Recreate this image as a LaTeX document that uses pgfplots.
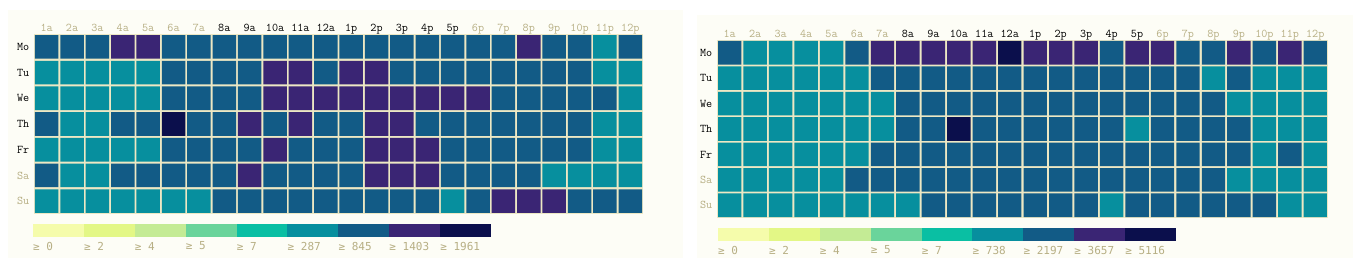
\documentclass[border=0pt]{standalone}
\usepackage{pgfplots}
\pgfplotsset{compat=1.18}
\usepackage{fontspec}
\newfontfamily\legfont{DejaVu Sans Mono}
\definecolor{c0}{HTML}{F5FCAB}
\definecolor{c1}{HTML}{E3F786}
\definecolor{c2}{HTML}{C4EB95}
\definecolor{c3}{HTML}{6AD49B}
\definecolor{c4}{HTML}{0ABFA3}
\definecolor{c5}{HTML}{078F9E}
\definecolor{c6}{HTML}{125B86}
\definecolor{c7}{HTML}{3A2574}
\definecolor{c8}{HTML}{0B0F4C}
\definecolor{kh}{HTML}{B7AF84}
\definecolor{cream}{HTML}{EDE8C4}
\definecolor{bgc}{HTML}{FDFDF6}

\pgfdeclareplotmark{cell}{%
  \pgfsetcornersarced{\pgfpoint{2.5pt}{2.5pt}}%
  \pgfpathmoveto{\pgfpoint{-11.7pt}{0pt}}%
  \pgfpathlineto{\pgfpoint{-11.7pt}{11.8pt}}%
  \pgfpathlineto{\pgfpoint{11.7pt}{11.8pt}}%
  \pgfpathlineto{\pgfpoint{11.7pt}{-11.8pt}}%
  \pgfpathlineto{\pgfpoint{-11.7pt}{-11.8pt}}%
  \pgfpathclose
  \pgfusepathqfill}

\pgfplotsset{
  heat/.style={
    scale only axis, clip=false,
    xmin=-0.5, xmax=23.5, ymin=-0.5, ymax=6.5,
    axis line style={draw=none}, major tick length=0pt,
    xtick={0,...,23}, ytick={0,...,6},
    xticklabel pos=upper,
    xticklabels={\color{kh}1a,\color{kh}2a,\color{kh}3a,\color{kh}4a,\color{kh}5a,\color{kh}6a,\color{kh}7a,8a,9a,10a,11a,12a,1p,2p,3p,4p,5p,\color{kh}6p,\color{kh}7p,\color{kh}8p,\color{kh}9p,\color{kh}10p,\color{kh}11p,\color{kh}12p},
    yticklabels={\color{kh}Su,\color{kh}Sa,Fr,Th,We,Tu,Mo},
    tick label style={font=\ttfamily\fontsize{11.8}{13}\selectfont, inner sep=0pt},
    xticklabel style={anchor=base, yshift=2.5pt},
    yticklabel style={anchor=east, xshift=-4.5pt},
    axis background/.style={fill=cream},
  },
  cellplot/.style={only marks, mark=cell, mark options={fill=#1, draw=none}},
  legbar/.style={
    scale only axis, width=458pt, height=13pt, anchor=south west,
    xmin=0, xmax=9, ymin=0, ymax=1,
    axis line style={draw=none}, major tick length=0pt,
    ytick=\empty, xtick={0,...,8},
    xticklabel style={anchor=west, inner sep=0pt, yshift=-9pt,
      font=\legfont\fontsize{11}{13}\selectfont, text=kh},
  },
}

\begin{document}
\begin{tikzpicture}
\path[use as bounding box] (0pt,0pt) rectangle (1359pt,258pt);
\fill[bgc] (8pt,0pt) rectangle (683pt,248pt);
\fill[bgc] (697pt,0pt) rectangle (1353pt,243pt);

% ---------------- left heat map (x: 0=1a ... 23=12p; y: 6=Mo ... 0=Su) ----------------
\begin{axis}[heat, width=609pt, height=180pt, at={(34pt,44pt)}, anchor=south west]
% level 5: >= 287
\addplot[cellplot=c5] coordinates {
(22,6)
(0,5)(1,5)(2,5)(3,5)(4,5)(22,5)(23,5)
(0,4)(1,4)(2,4)(3,4)(4,4)(23,4)
(1,3)(2,3)(22,3)(23,3)
(0,2)(1,2)(2,2)(3,2)(4,2)(22,2)(23,2)
(1,1)(2,1)(20,1)(21,1)(22,1)(23,1)
(0,0)(1,0)(2,0)(3,0)(4,0)(5,0)(6,0)(16,0)
};
% level 6: >= 845
\addplot[cellplot=c6] coordinates {
(0,6)(1,6)(2,6)(5,6)(6,6)(7,6)(8,6)(9,6)(10,6)(11,6)(12,6)(13,6)(14,6)(15,6)(16,6)(17,6)(18,6)(20,6)(21,6)(23,6)
(5,5)(6,5)(7,5)(8,5)(11,5)(14,5)(15,5)(16,5)(17,5)(18,5)(19,5)(20,5)(21,5)
(5,4)(6,4)(7,4)(8,4)(18,4)(19,4)(20,4)(21,4)(22,4)
(0,3)(3,3)(4,3)(6,3)(7,3)(9,3)(11,3)(12,3)(15,3)(16,3)(17,3)(18,3)(19,3)(20,3)(21,3)
(5,2)(6,2)(7,2)(8,2)(10,2)(11,2)(12,2)(16,2)(17,2)(18,2)(19,2)(20,2)(21,2)
(0,1)(3,1)(4,1)(5,1)(6,1)(7,1)(9,1)(10,1)(11,1)(12,1)(16,1)(17,1)(18,1)(19,1)
(7,0)(8,0)(9,0)(10,0)(11,0)(12,0)(13,0)(14,0)(15,0)(17,0)(21,0)(22,0)(23,0)
};
% level 7: >= 1403
\addplot[cellplot=c7] coordinates {
(3,6)(4,6)(19,6)
(9,5)(10,5)(12,5)(13,5)
(9,4)(10,4)(11,4)(12,4)(13,4)(14,4)(15,4)(16,4)(17,4)
(8,3)(10,3)(13,3)(14,3)
(9,2)(13,2)(14,2)(15,2)
(8,1)(13,1)(14,1)(15,1)
(18,0)(19,0)(20,0)
};
% level 8: >= 1961
\addplot[cellplot=c8] coordinates {(5,3)};
\end{axis}

% ---------------- right heat map ----------------
\begin{axis}[heat, width=611pt, height=178pt, at={(717pt,40pt)}, anchor=south west]
% level 5: >= 738
\addplot[cellplot=c5] coordinates {
(1,6)(2,6)(3,6)(4,6)
(0,5)(1,5)(2,5)(3,5)(4,5)(5,5)(19,5)(21,5)(22,5)(23,5)
(0,4)(1,4)(2,4)(3,4)(4,4)(5,4)(6,4)(20,4)(21,4)(22,4)(23,4)
(0,3)(1,3)(2,3)(3,3)(4,3)(5,3)(6,3)(16,3)(21,3)(22,3)(23,3)
(0,2)(1,2)(2,2)(3,2)(4,2)(5,2)(21,2)(23,2)
(0,1)(1,1)(2,1)(3,1)(4,1)(20,1)(21,1)(22,1)(23,1)
(0,0)(1,0)(2,0)(3,0)(4,0)(5,0)(6,0)(7,0)(15,0)(22,0)(23,0)
};
% level 6: >= 2197
\addplot[cellplot=c6] coordinates {
(0,6)(5,6)(15,6)(18,6)(19,6)(21,6)(23,6)
(6,5)(7,5)(8,5)(9,5)(10,5)(11,5)(12,5)(13,5)(14,5)(15,5)(16,5)(17,5)(18,5)(20,5)
(7,4)(8,4)(9,4)(10,4)(11,4)(12,4)(13,4)(14,4)(15,4)(16,4)(17,4)(18,4)(19,4)
(7,3)(8,3)(10,3)(11,3)(12,3)(13,3)(14,3)(15,3)(17,3)(18,3)(19,3)(20,3)
(6,2)(7,2)(8,2)(9,2)(10,2)(11,2)(12,2)(13,2)(14,2)(15,2)(16,2)(17,2)(18,2)(19,2)(20,2)(22,2)
(5,1)(6,1)(7,1)(8,1)(9,1)(10,1)(11,1)(12,1)(13,1)(14,1)(15,1)(16,1)(17,1)(18,1)(19,1)
(8,0)(9,0)(10,0)(11,0)(12,0)(13,0)(14,0)(16,0)(17,0)(18,0)(19,0)(20,0)(21,0)
};
% level 7: >= 3657
\addplot[cellplot=c7] coordinates {
(6,6)(7,6)(8,6)(9,6)(10,6)(12,6)(13,6)(14,6)(16,6)(17,6)(20,6)(22,6)
};
% level 8: >= 5116
\addplot[cellplot=c8] coordinates {(11,6)(9,3)};
\end{axis}

% ---------------- left legend ----------------
\begin{axis}[legbar, at={(33pt,21pt)},
  xticklabels={≥ 0,≥ 2,≥ 4,≥ 5,≥ 7,≥ 287,≥ 845,≥ 1403,≥ 1961}]
\addplot[fill=c0, draw=none] coordinates {(0,1)(1,1)} \closedcycle;
\addplot[fill=c1, draw=none] coordinates {(1,1)(2,1)} \closedcycle;
\addplot[fill=c2, draw=none] coordinates {(2,1)(3,1)} \closedcycle;
\addplot[fill=c3, draw=none] coordinates {(3,1)(4,1)} \closedcycle;
\addplot[fill=c4, draw=none] coordinates {(4,1)(5,1)} \closedcycle;
\addplot[fill=c5, draw=none] coordinates {(5,1)(6,1)} \closedcycle;
\addplot[fill=c6, draw=none] coordinates {(6,1)(7,1)} \closedcycle;
\addplot[fill=c7, draw=none] coordinates {(7,1)(8,1)} \closedcycle;
\addplot[fill=c8, draw=none] coordinates {(8,1)(9,1)} \closedcycle;
\end{axis}

% ---------------- right legend ----------------
\begin{axis}[legbar, at={(718pt,17pt)},
  xticklabels={≥ 0,≥ 2,≥ 4,≥ 5,≥ 7,≥ 738,≥ 2197,≥ 3657,≥ 5116}]
\addplot[fill=c0, draw=none] coordinates {(0,1)(1,1)} \closedcycle;
\addplot[fill=c1, draw=none] coordinates {(1,1)(2,1)} \closedcycle;
\addplot[fill=c2, draw=none] coordinates {(2,1)(3,1)} \closedcycle;
\addplot[fill=c3, draw=none] coordinates {(3,1)(4,1)} \closedcycle;
\addplot[fill=c4, draw=none] coordinates {(4,1)(5,1)} \closedcycle;
\addplot[fill=c5, draw=none] coordinates {(5,1)(6,1)} \closedcycle;
\addplot[fill=c6, draw=none] coordinates {(6,1)(7,1)} \closedcycle;
\addplot[fill=c7, draw=none] coordinates {(7,1)(8,1)} \closedcycle;
\addplot[fill=c8, draw=none] coordinates {(8,1)(9,1)} \closedcycle;
\end{axis}
\end{tikzpicture}
\end{document}
